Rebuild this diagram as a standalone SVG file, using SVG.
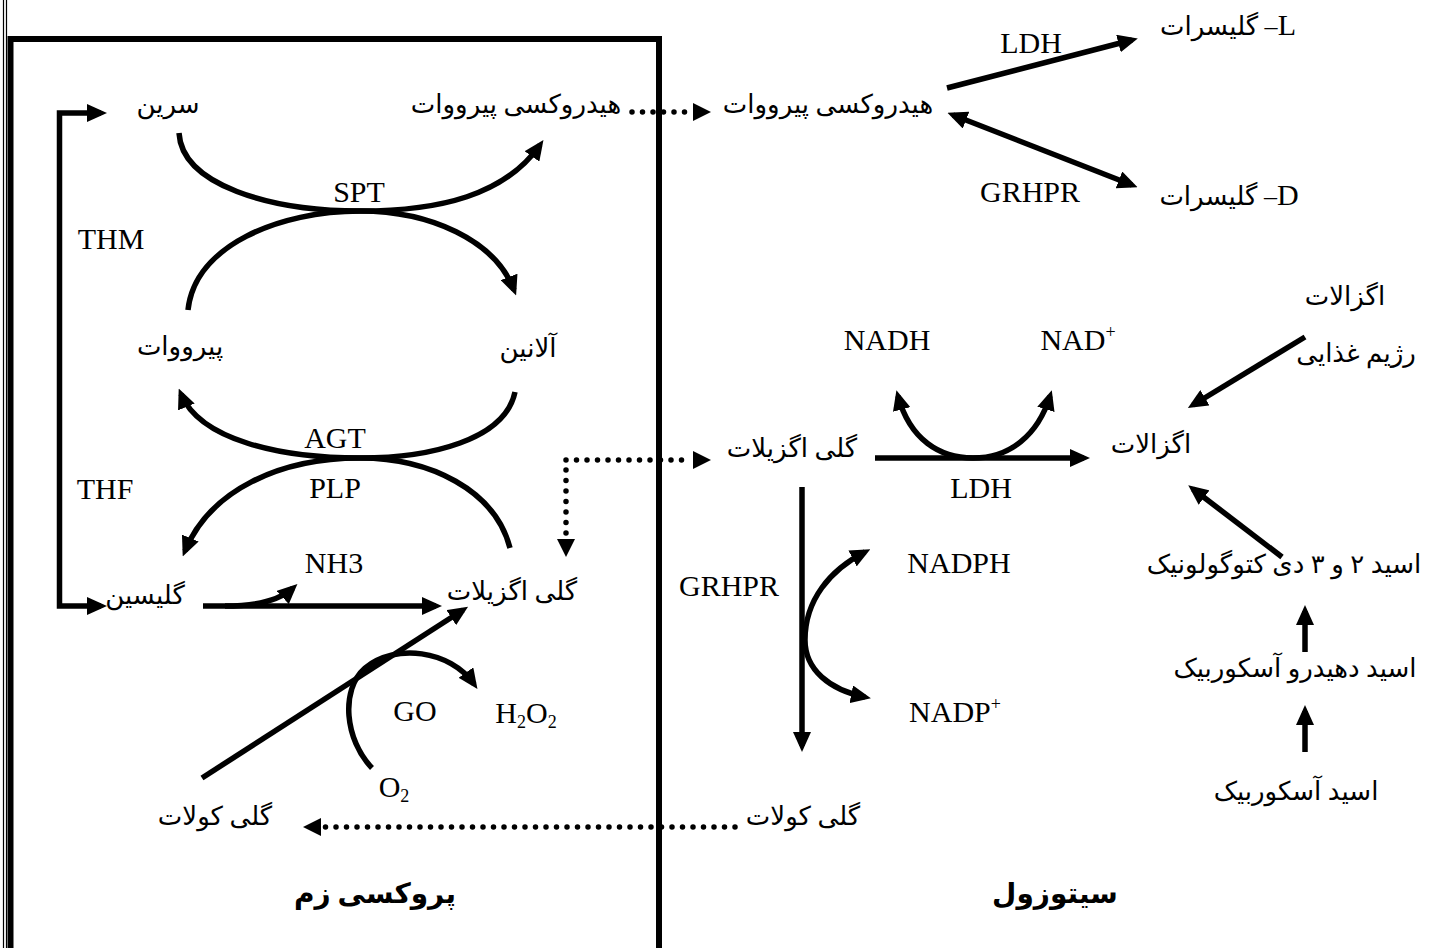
<svg xmlns="http://www.w3.org/2000/svg" width="1431" height="948" viewBox="0 0 1431 948">
<style>
  .lat { font-family: "Liberation Serif", "DejaVu Serif", serif; font-size: 30px; fill: #000; text-anchor: middle; }
  .fa { font-family: "Liberation Serif", "DejaVu Sans", serif; font-size: 26px; fill: #000; text-anchor: middle; direction: rtl; unicode-bidi: embed; }
  .fab { font-family: "Liberation Serif", "DejaVu Sans", serif; font-size: 28px; font-weight: bold; fill: #000; text-anchor: middle; direction: rtl; unicode-bidi: embed; }
  .arr { fill: none; stroke: #000; stroke-width: 5.5; marker-end: url(#ah); }
  .arr2 { fill: none; stroke: #000; stroke-width: 5.5; marker-end: url(#ah); marker-start: url(#ahs); }
  .dot { fill: none; stroke: #000; stroke-width: 5.5; stroke-linecap: round; stroke-dasharray: 0 10.5; }
  .ah { fill: #000; }
</style>
<defs>
  <marker id="ah" viewBox="0 0 20 18" refX="14" refY="9" markerWidth="20" markerHeight="18" orient="auto" markerUnits="userSpaceOnUse">
    <path d="M0,0 L20,9 L0,18 z" fill="#000"/>
  </marker>
  <marker id="ahs" viewBox="0 0 20 18" refX="14" refY="9" markerWidth="20" markerHeight="18" orient="auto-start-reverse" markerUnits="userSpaceOnUse">
    <path d="M0,0 L20,9 L0,18 z" fill="#000"/>
  </marker>
</defs>

<g id="frame">
  <line x1="3.5" y1="0" x2="3.5" y2="948" stroke="#000" stroke-width="1.2"/>
  <line x1="6.5" y1="0" x2="6.5" y2="948" stroke="#000" stroke-width="1.2"/>
  <path d="M10.5,960 L10.5,39 L659,39 L659,960" fill="none" stroke="#000" stroke-width="6"/>
</g>

<g id="connectors">
  <!-- peroxisome cycle -->
  <path class="arr" d="M179,133 C182,185 270,211 360,211 C440,211 505,195 540,145"/>
  <path class="arr" d="M188,310 C195,245 280,211 360,211 C430,211 495,240 514,290"/>
  <path class="arr" d="M515,392 C505,440 430,458 360,458 C280,458 200,440 181,394"/>
  <path class="arr" d="M510,548 C495,490 430,458 360,458 C280,458 210,490 185,551"/>
  <path class="arr2" d="M101,113 L59.5,113 L59.5,606 L101,606"/>
  <path class="arr" d="M203,606 L436,606"/>
  <path class="arr" d="M225,606 C258,606 280,600 293,588"/>
  <path class="arr" d="M202,778 L463,610"/>
  <path class="arr" d="M372,768 C345,740 340,690 365,668 C395,643 450,650 474,684"/>
  <!-- dotted transports -->
  <path class="dot" d="M632,112 L690,112"/>
  <path class="ah" d="M693,103 L711,112 L693,121 z"/>
  <path class="dot" d="M566,460 L690,460"/>
  <path class="ah" d="M693,451 L711,460 L693,469 z"/>
  <path class="dot" d="M566,470 L566,534"/>
  <path class="ah" d="M557,539 L566,557 L575,539 z"/>
  <path class="dot" d="M735,827 L324,827"/>
  <path class="ah" d="M321,818 L303,827 L321,836 z"/>
  <!-- cytosol -->
  <path class="arr" d="M947,88 L1132,40"/>
  <path class="arr2" d="M953,115 L1132,185"/>
  <path class="arr2" d="M898,396 C910,440 940,458 973,458 C1010,458 1038,435 1050,396"/>
  <path class="arr" d="M875,458 L1084,458"/>
  <path class="arr" d="M802,487 L802,746"/>
  <path class="arr2" d="M865,552 C830,570 805,600 805,640 C805,670 830,690 865,697"/>
  <path class="arr" d="M1305,337 L1193,405"/>
  <path class="arr" d="M1282,557 L1193,489"/>
  <path class="arr" d="M1305,652 L1305,611"/>
  <path class="arr" d="M1305,752 L1305,711"/>
</g>

<g id="n-serine"><text class="fa" x="168" y="113">سرین</text></g>
<g id="n-hp-perox"><text class="fa" x="516" y="113">هیدروکسی پیرووات</text></g>
<g id="n-hp-cyto"><text class="fa" x="828" y="113">هیدروکسی پیرووات</text></g>
<g id="n-lglycerate"><text class="fa" x="1228" y="35"><tspan font-family="Liberation Serif" font-size="30">L</tspan>– گلیسرات</text></g>
<g id="n-dglycerate"><text class="fa" x="1229" y="205"><tspan font-family="Liberation Serif" font-size="30">D</tspan>– گلیسرات</text></g>
<g id="l-ldh1"><text class="lat" x="1031" y="53">LDH</text></g>
<g id="l-grhpr1"><text class="lat" x="1030" y="202">GRHPR</text></g>
<g id="l-thm"><text class="lat" x="111" y="249">THM</text></g>
<g id="l-spt"><text class="lat" x="359" y="202">SPT</text></g>
<g id="n-pyruvate"><text class="fa" x="180" y="355">پیرووات</text></g>
<g id="n-alanine"><text class="fa" x="528" y="357">آلانین</text></g>
<g id="l-agt"><text class="lat" x="335" y="448">AGT</text></g>
<g id="l-plp"><text class="lat" x="335" y="498">PLP</text></g>
<g id="l-thf"><text class="lat" x="105" y="499">THF</text></g>
<g id="n-nadh"><text class="lat" x="887" y="350">NADH</text></g>
<g id="n-nad"><text class="lat" x="1078" y="350">NAD<tspan font-size="18" dy="-12">+</tspan></text></g>
<g id="n-oxalate-diet"><text class="fa" x="1345" y="305">اگزالات</text><text class="fa" x="1356" y="362">رژیم غذایی</text></g>
<g id="n-glyox-cyto"><text class="fa" x="792" y="457">گلی اگزیلات</text></g>
<g id="n-oxalate"><text class="fa" x="1151" y="453">اگزالات</text></g>
<g id="l-ldh2"><text class="lat" x="981" y="498">LDH</text></g>
<g id="n-nh3"><text class="lat" x="334" y="573">NH3</text></g>
<g id="n-glycine"><text class="fa" x="145" y="604">گلیسین</text></g>
<g id="n-glyox-perox"><text class="fa" x="512" y="600">گلی اگزیلات</text></g>
<g id="l-grhpr2"><text class="lat" x="729" y="596">GRHPR</text></g>
<g id="n-nadph"><text class="lat" x="959" y="573">NADPH</text></g>
<g id="n-nadp"><text class="lat" x="955" y="722">NADP<tspan font-size="18" dy="-12">+</tspan></text></g>
<g id="n-keto"><text class="fa" x="1284" y="573">اسید ۲ و ۳ دی کتوگولونیک</text></g>
<g id="n-dha"><text class="fa" x="1295" y="677">اسید دهیدرو آسکوربیک</text></g>
<g id="n-aa"><text class="fa" x="1296" y="800">اسید آسکوربیک</text></g>
<g id="l-go"><text class="lat" x="415" y="721">GO</text></g>
<g id="n-h2o2"><text class="lat" x="526" y="723">H<tspan font-size="18" dy="5">2</tspan><tspan dy="-5">O</tspan><tspan font-size="18" dy="5">2</tspan></text></g>
<g id="n-o2"><text class="lat" x="394" y="797">O<tspan font-size="18" dy="5">2</tspan></text></g>
<g id="n-glycolate-perox"><text class="fa" x="215" y="825">گلی کولات</text></g>
<g id="n-glycolate-cyto"><text class="fa" x="803" y="825">گلی کولات</text></g>
<g id="t-perox"><text class="fab" x="375" y="903">پروکسی زم</text></g>
<g id="t-cyto"><text class="fab" x="1055" y="903">سیتوزول</text></g>
</svg>
